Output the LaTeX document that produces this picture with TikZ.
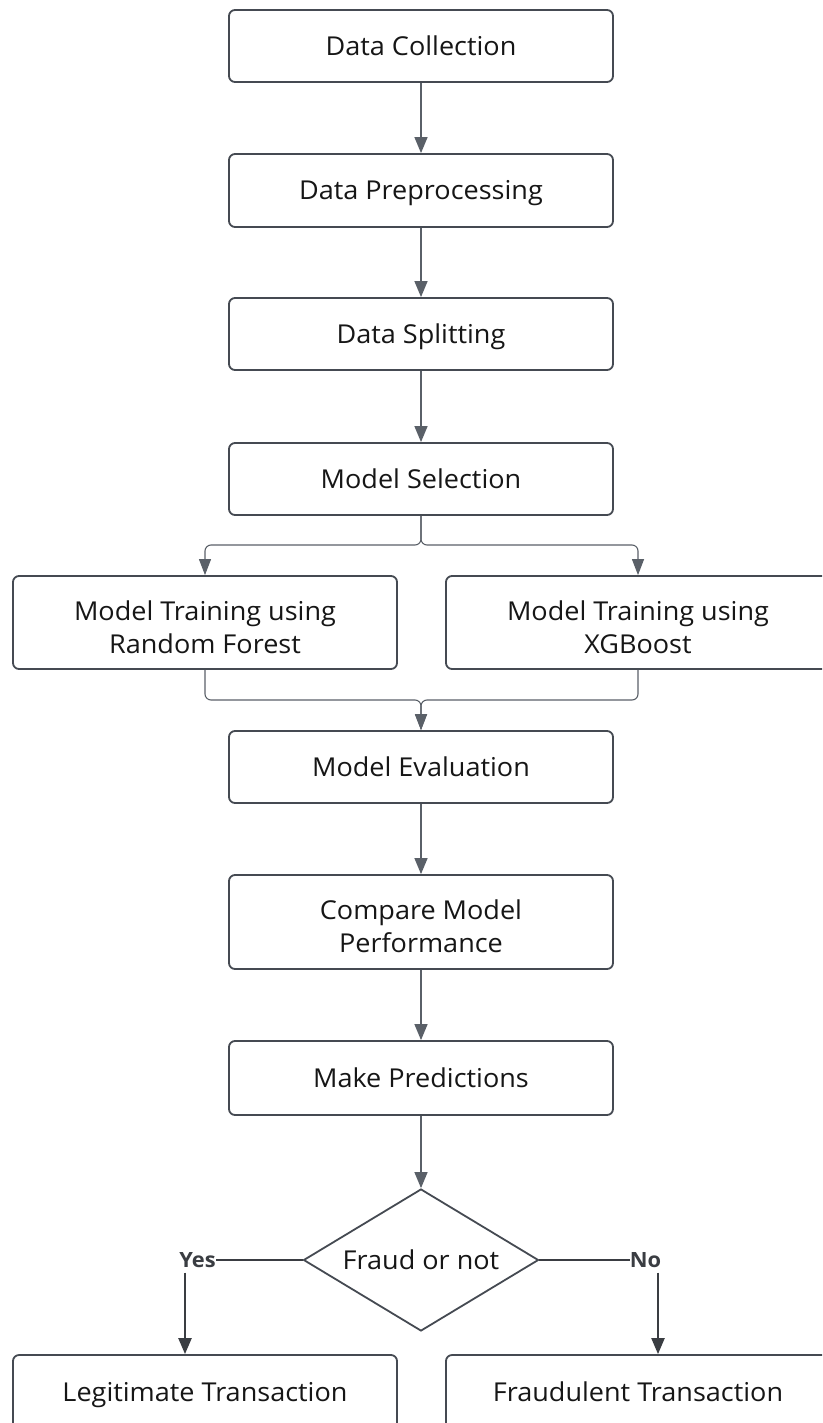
\documentclass[tikz,border=0pt]{standalone}
\usepackage{fontspec}
\setmainfont[FakeStretch=1.04]{Open Sans}
\usetikzlibrary{arrows.meta,shapes.geometric}

\definecolor{edge}{HTML}{454A52}
\definecolor{wire}{HTML}{5A6068}
\definecolor{ink}{HTML}{161616}
\definecolor{tag}{HTML}{3A3D42}

\tikzset{
  x=1pt, y=-1pt,
  stepbox/.style={draw=edge, line width=1.8pt, rounded corners=6pt, fill=white,
    text=ink, font=\fontsize{26}{33}\selectfont, align=center,
    minimum width=384pt, inner sep=0pt},
  oneline/.style={text height=18.6pt, text depth=0pt},
  twoline/.style={text height=61pt, text depth=0pt},
  decision/.style={draw=edge, line width=1.8pt, diamond, aspect=2, fill=white, text=ink,
    font=\fontsize{26}{33}\selectfont, minimum width=235pt, minimum height=142pt,
    inner sep=0pt, text height=18.6pt, text depth=0pt},
  flow/.style={draw=wire, line width=1.4pt,
    -{Triangle[width=13pt,length=16pt]}},
  branch/.style={draw=wire, line width=1.1pt, rounded corners=6pt,
    -{Triangle[width=12pt,length=16pt]}},
  answer/.style={draw=tag, line width=2.2pt},
  answerarrow/.style={draw=tag, line width=2.2pt,
    -{Triangle[width=13pt,length=16pt]}},
  tagtext/.style={text=tag, font=\fontsize{21}{22}\selectfont\bfseries, inner sep=0pt,
    text height=15pt, text depth=0pt},
}

\begin{document}
\begin{tikzpicture}
\clip (0,0) rectangle (822,1423);
\useasboundingbox (0,0) rectangle (822,1423);

% main column of steps
\node[stepbox, oneline, minimum height=72pt] (collect) at (421,46)    {Data Collection};
\node[stepbox, oneline, minimum height=73pt] (prep)    at (421,190.5) {Data Preprocessing};
\node[stepbox, oneline, minimum height=72pt] (split)   at (421,334)   {Data Splitting};
\node[stepbox, oneline, minimum height=72pt] (select)  at (421,479)   {Model Selection};

% the two training branches
\node[stepbox, twoline, minimum height=93pt] (rf) at (205,622.5) {Model Training using\\Random Forest};
\node[stepbox, twoline, minimum height=93pt] (xgb) at (638,622.5) {Model Training using\\XGBoost};

\node[stepbox, oneline, minimum height=72pt] (eval)    at (421,767)  {Model Evaluation};
\node[stepbox, twoline, minimum height=94pt] (compare) at (421,922)  {Compare Model\\Performance};
\node[stepbox, oneline, minimum height=74pt] (predict) at (421,1078) {Make Predictions};

\node[decision] (fraud) at (421,1260) {Fraud or not};

% outcomes
\node[stepbox, oneline, minimum height=74pt] (legit) at (205,1392) {Legitimate Transaction};
\node[stepbox, oneline, minimum height=74pt] (fake)  at (638,1392) {Fraudulent Transaction};

% labels on the decision exits
\node[tagtext] (yes) at (197.5,1260) {Yes};
\node[tagtext] (no)  at (645.5,1260) {No};

% split and join points of the branches
\coordinate (fork) at (421,545);
\coordinate (join) at (421,700);

% connectors
\draw[flow] (collect) -- (prep);
\draw[flow] (prep) -- (split);
\draw[flow] (split) -- (select);

\draw[branch] (select.south) -- (fork) -| (rf.north);
\draw[branch] (select.south) -- (fork) -| (xgb.north);

\draw[branch] (rf.south) |- (join) -- (eval.north);
\draw[branch] (xgb.south) |- (join) -- (eval.north);

\draw[flow] (eval) -- (compare);
\draw[flow] (compare) -- (predict);
\draw[flow] (predict) -- (fraud.north);

\draw[answer] (fraud.west) -- (yes.east);
\draw[answer] (fraud.east) -- (no.west);
\draw[answerarrow] ([xshift=-12.5pt,yshift=-5pt]yes.south) -- ([xshift=-12.5pt]yes.south |- legit.north);
\draw[answerarrow] ([xshift=12.5pt,yshift=-5pt]no.south) -- ([xshift=12.5pt]no.south |- fake.north);
\end{tikzpicture}
\end{document}
